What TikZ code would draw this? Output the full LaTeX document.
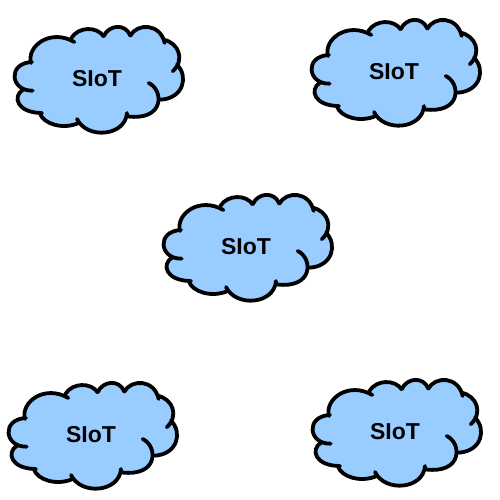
\documentclass[tikz,border=0pt]{standalone}
\usepackage{fontspec}
\setmainfont{Liberation Sans}
\definecolor{cloudblue}{HTML}{99CCFF}
% the eleven lobes, clockwise from the upper left; #1 goes between them
\newcommand{\cloudlobes}[1]{
  (92,160) .. controls (78,110) and (150,55) .. (222,97) #1
  (213,85) .. controls (235,50) and (290,50) .. (310,80) #1
  (310,80) .. controls (325,45) and (375,40) .. (390,78) #1
  (390,78) .. controls (410,40) and (480,40) .. (493,100) #1
  (490,90) .. controls (535,100) and (555,150) .. (517,185) #1
  (530,165) .. controls (565,200) and (550,265) .. (482,270) #1
  (445,220) .. controls (490,240) and (495,335) .. (380,320) #1
  (380,310) .. controls (375,380) and (260,390) .. (230,328) #1
  (235,340) .. controls (190,360) and (130,345) .. (118,310) #1
  (125,310) .. controls (50,310) and (35,260) .. (68,240) #1
  (97,243) .. controls (30,245) and (20,160) .. (95,157)
}
\tikzset{
  slotcloud/.pic={
    \begin{scope}[scale=1/3,shift={(-290,-205)}]
      \fill[cloudblue] \cloudlobes{--} -- cycle;
      \draw[line width=3.8pt,line cap=round,line join=round] \cloudlobes{};
    \end{scope}
    \node[font=\fontsize{23pt}{24pt}\selectfont\bfseries] (-label) at (0,0.7) {SIoT};
  }
}
\begin{document}
\begin{tikzpicture}[x=1pt,y=-1pt]
  \useasboundingbox (0,0) rectangle (500,500);
  % five clouds
  \foreach \name/\x/\y in {slotA/97/78, slotB/394/71, slotC/246/246, slotD/91/434, slotE/395/431}
  {
    \pic (\name) at (\x,\y) {slotcloud};
  }
\end{tikzpicture}
\end{document}
